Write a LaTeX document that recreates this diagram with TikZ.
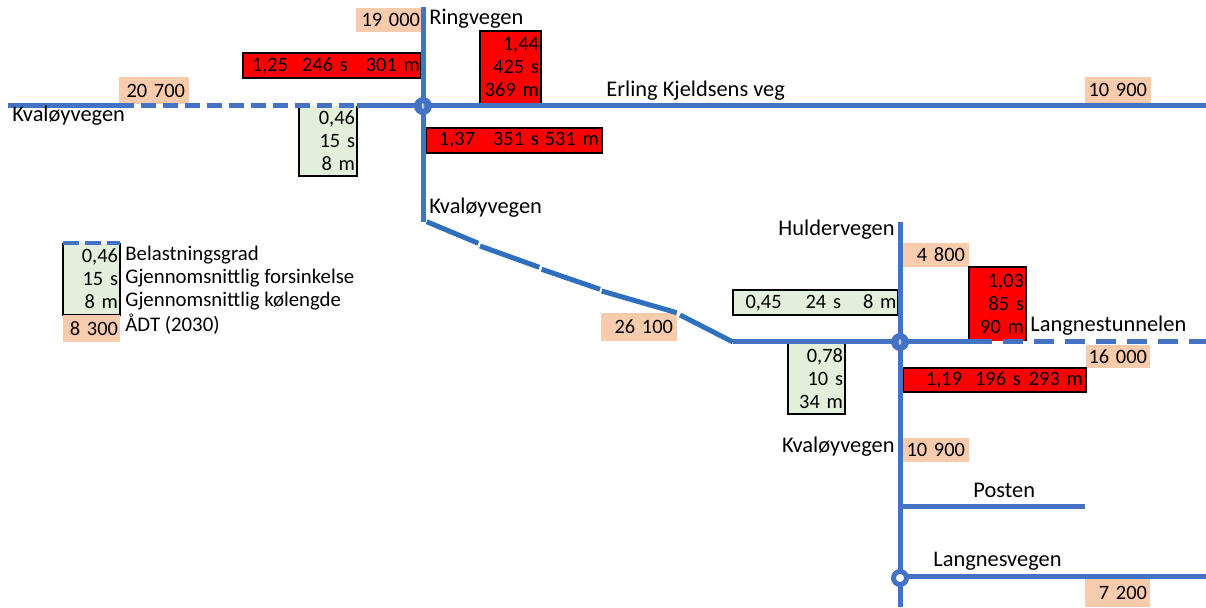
\documentclass[tikz,border=0pt]{standalone}
\usepackage{fontspec}
\setmainfont{Carlito}
\usetikzlibrary{shapes.geometric}
\definecolor{roadblue}{HTML}{4472C4}
\definecolor{diagblue}{HTML}{2F6FBD}
\definecolor{hotred}{HTML}{FF0000}
\definecolor{okgreen}{HTML}{E2EFDA}
\definecolor{adtorange}{HTML}{F8CBAD}
\newcommand\lblfont{\fontsize{10.4pt}{11.5pt}\selectfont}
\newcommand\cellfont{\fontsize{10.2pt}{11.5pt}\selectfont\spaceskip=1.8pt\relax}
\newcommand\roadfont{\fontsize{11.2pt}{12pt}\selectfont}
% one line, flush right, never broken
\newcommand\rfit[1]{\makebox[\linewidth][r]{#1}}
\begin{document}
\begin{tikzpicture}[x=0.5pt,y=-0.5pt,
  road/.style={roadblue, line width=2.5pt},
  diag/.style={diagblue, line width=2.5pt},
  dashroad/.style={road, dash pattern=on 7.5pt off 3.5pt},
  tunnelroad/.style={road, dash pattern=on 10pt off 5.5pt},
  cell/.style={inner xsep=1pt, inner ysep=0pt, align=right, font=\cellfont},
  adt/.style={cell, fill=adtorange, inner xsep=2pt},
  hot/.style={cell, fill=hotred, draw=black, line width=1pt},
  ok/.style={cell, fill=okgreen},
  rim/.style={draw=black, line width=1pt},
  lbl/.style={inner sep=0pt, font=\lblfont},
  roadname/.style={inner sep=0pt, font=\roadfont},
  hub/.style={circle, fill=roadblue, minimum size=9pt, inner sep=0pt},
  hubdot/.style={ellipse, fill=roadblue!35!white, minimum width=1.4pt, minimum height=2.8pt, inner sep=0pt},
  ring/.style={circle, draw=roadblue, line width=2.5pt, fill=white, minimum size=6.5pt, inner sep=0pt},
]
\useasboundingbox (0,0) rectangle (1206,608);

% ---------- key points of the road network ----------
\coordinate (wEnd)    at (8,106);
\coordinate (dashA)   at (119,106);
\coordinate (dashB)   at (357,106);
\coordinate (eEnd)    at (1206,106);
\coordinate (nTop)    at (423,7);
\coordinate (jA)      at (423,106);
\coordinate (bend)    at (423,222);
\coordinate (diagEnd) at (733,342);
\coordinate (jB)      at (900,342);
\coordinate (tunA)    at (972,342);
\coordinate (tunEnd)  at (1206,342);
\coordinate (hTop)    at (900,222);
\coordinate (sBot)    at (900,607);
\coordinate (postA)   at (900,507);
\coordinate (postEnd) at (1085,507);
\coordinate (langA)   at (900,577);
\coordinate (langEnd) at (1206,577);

% ---------- value boxes ----------
% traffic volumes (ADT)
\node[adt, minimum width=32.5pt, minimum height=12pt, text width=31.5pt, inner xsep=0.5pt] (adtRing) at (388.5,20) {\rfit{19 000}};
\node[adt, minimum width=35pt, minimum height=13.5pt, text width=31pt] (adtKvW) at (154,90.5) {\rfit{20 700}};
\node[adt, minimum width=33pt, minimum height=13pt, text width=29pt] (adtErl) at (1118,90) {\rfit{10 900}};
\node[adt, minimum width=38pt, minimum height=14pt, text width=34pt] (adtKvD) at (639,327) {\rfit{26 100}};
\node[adt, minimum width=33pt, minimum height=12pt, text width=29pt] (adtHul) at (936,255) {\rfit{4 800}};
\node[adt, minimum width=32pt, minimum height=11.5pt, text width=29pt, inner xsep=1.5pt] (adtTun) at (1118,356.5) {\rfit{16 000}};
\node[adt, minimum width=33pt, minimum height=12pt, text width=29pt] (adtKvS) at (936,450) {\rfit{10 900}};
\node[adt, minimum width=32.5pt, minimum height=14pt, text width=29.5pt, inner xsep=1.5pt] (adtLan) at (1117.5,593) {\rfit{7 200}};

% overloaded approaches
\node[hot, minimum width=89pt, minimum height=12.5pt, text width=88pt, inner xsep=0.5pt] (hotRing) at (332,65.5)
  {\rfit{1,25\hspace{7pt}246 s\hspace{9pt}301 m}};
\node[hot, minimum width=30.5pt, minimum height=36.5pt, text width=28.5pt] (hotErl) at (510.5,67.5)
  {1,44\\425 s\\369 m};
\node[hot, minimum width=88pt, minimum height=12.5pt, text width=85pt, inner xsep=1.5pt] (hotKvN) at (514,140.5)
  {\rfit{1,37\hspace{9pt}351 s\hspace{3pt}531 m}};
\node[cell, fill=hotred, minimum width=28.5pt, minimum height=37pt, text width=26.5pt] (hotTun) at (997.5,304)
  {1,03\\85 s\\90 m};
\draw[rim] (hotTun.south west) -- (hotTun.north west) -- (hotTun.north east) -- (hotTun.south east);
\node[hot, minimum width=91.5pt, minimum height=12pt, text width=88.5pt, inner xsep=1.5pt] (hotKvS) at (994.5,380)
  {\rfit{1,19\hspace{6.5pt}196 s\hspace{4pt}293 m}};

% approaches within capacity
\node[ok, minimum width=29pt, minimum height=35pt, text width=27pt] (okKvW) at (328,141)
  {0,46\\15 s\\8 m};
\draw[rim] (okKvW.north west) -- (okKvW.south west) -- (okKvW.south east) -- (okKvW.north east);
\node[ok, rim, minimum width=82.5pt, minimum height=12.5pt, text width=81pt, inner xsep=0.75pt] (okHul) at (815.5,302.5)
  {\rfit{0,45\hspace{12pt}24 s\hspace{11pt}8 m}};
\node[ok, minimum width=28.5pt, minimum height=35.5pt, text width=26.5pt] (okKvD) at (816.5,378.5)
  {0,78\\10 s\\34 m};
\draw[rim] (okKvD.north west) -- (okKvD.south west) -- (okKvD.south east) -- (okKvD.north east);

% ---------- roads ----------
\draw[road] (wEnd) -- (dashA);
\draw[dashroad] (dashA) -- (dashB);
\draw[road] (dashB) -- (eEnd);
\draw[road] (nTop) -- (bend);
\draw[diag] (426.7,221.7) -- (478.3,243.3);
\draw[diag] (480,246) -- (539.3,267.3);
\draw[diag] (541.7,269.3) -- (600,289.3);
\draw[diag] (601.7,291) -- (676.7,312.7);
\draw[diag] (680,315) -- (diagEnd);
\draw[road] (diagEnd) -- (tunA);
\draw[tunnelroad] (tunA) -- (tunEnd);
\draw[road] (hTop) -- (sBot);
\draw[road] (postA) -- (postEnd);
\draw[road] (langA) -- (langEnd);

% junctions
\node[hub] (hubA) at (jA) {};
\node[hubdot] (hubAc) at (jA) {};
\node[hub] (hubB) at (jB) {};
\node[hubdot] (hubBc) at (jB) {};
\node[ring] (ringLan) at (900,578) {};

% ---------- road names ----------
\node[roadname, anchor=base west] (nmRing) at (429,25) {Ringvegen};
\node[roadname, anchor=base west] (nmKvW)  at (12,122) {Kvaløyvegen};
\node[roadname, anchor=base west] (nmErl)  at (606,97) {Erling Kjeldsens veg};
\node[roadname, anchor=base west] (nmKvD)  at (429,214) {Kvaløyvegen};
\node[roadname, anchor=base east] (nmHul)  at (895,236) {Huldervegen};
\node[roadname, anchor=base west] (nmTun)  at (1030,332) {Langnestunnelen};
\node[roadname, anchor=base east] (nmKvS)  at (895,453) {Kvaløyvegen};
\node[roadname, anchor=base west] (nmPost) at (973,498) {Posten};
\node[roadname, anchor=base west] (nmLan)  at (933,567) {Langnesvegen};

% ---------- legend ----------
\node[ok, minimum width=28.5pt, minimum height=36pt, text width=26.5pt] (keyBox) at (91.5,279)
  {0,46\\15 s\\8 m};
\draw[rim] (keyBox.north west) -- (keyBox.south west) -- (keyBox.south east) -- (keyBox.north east);
\draw[road, line width=2pt, dash pattern=on 8.25pt off 2.75pt] (keyBox.north west) -- (keyBox.north east);
\node[adt, minimum width=28.5pt, minimum height=13.5pt, text width=26.5pt, inner xsep=1pt] (keyAdt) at (91.5,328.5) {\rfit{8 300}};
\node[lbl, anchor=base west] (keyA) at (125,261) {Belastningsgrad};
\node[lbl, anchor=base west] (keyB) at (125,284) {Gjennomsnittlig forsinkelse};
\node[lbl, anchor=base west] (keyC) at (125,307) {Gjennomsnittlig kølengde};
\node[lbl, anchor=base west] (keyD) at (125,332) {ÅDT (2030)};
\end{tikzpicture}
\end{document}
